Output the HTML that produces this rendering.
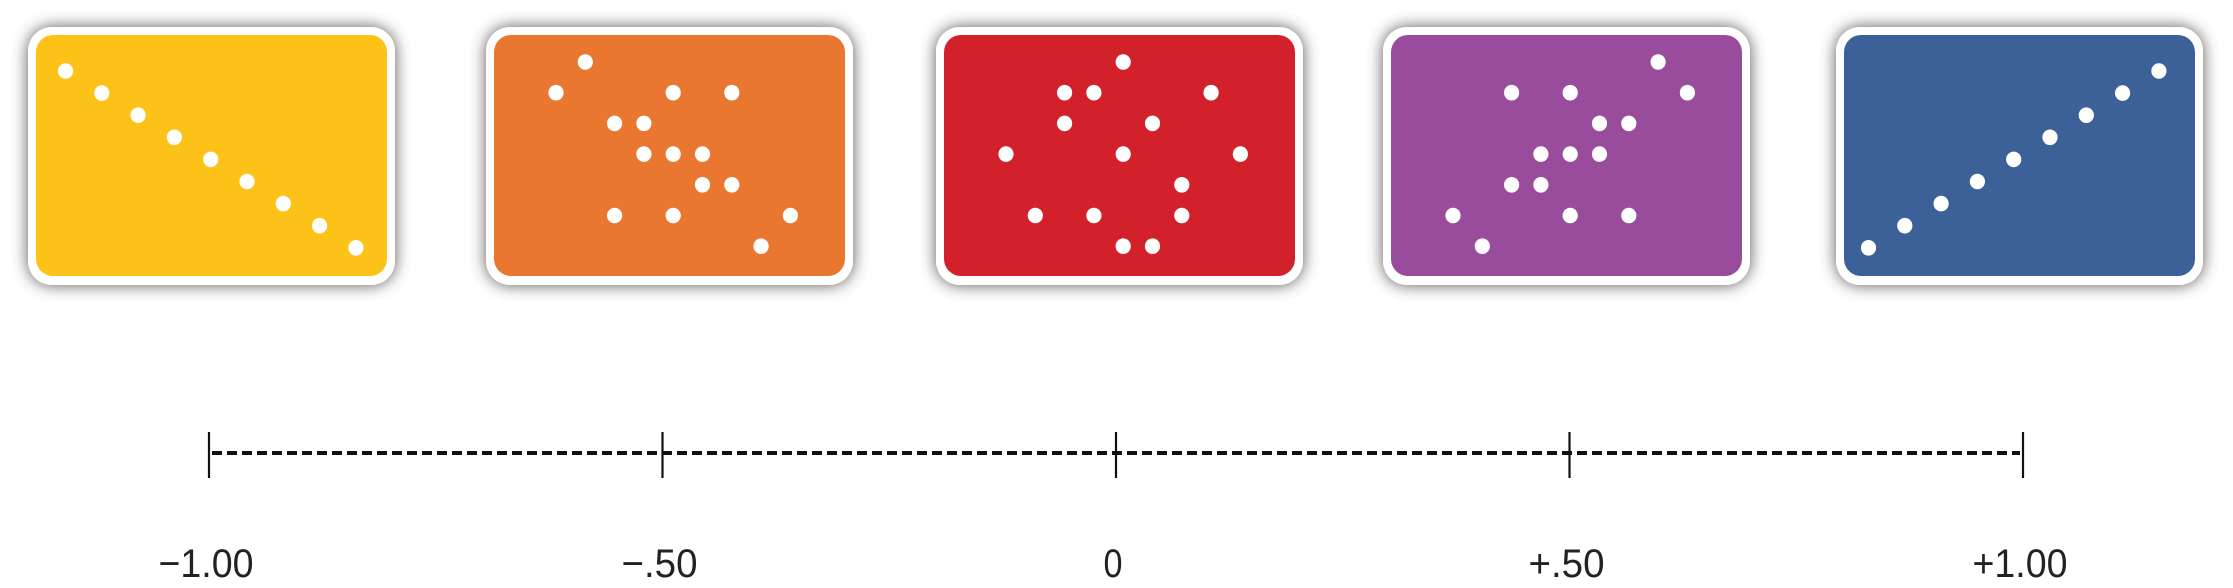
<!DOCTYPE html>
<html><head><meta charset="utf-8"><style>
html,body{margin:0;padding:0;background:#fff;}
svg{display:block;}
text{font-family:"Liberation Sans",sans-serif;}
</style></head><body>
<svg id="chart" width="2233" height="588" viewBox="0 0 2233 588">
<defs>
<filter id="sh" x="-10%" y="-15%" width="120%" height="130%">
<feGaussianBlur in="SourceAlpha" stdDeviation="8"/>
<feComponentTransfer><feFuncA type="linear" slope="0.9"/></feComponentTransfer>
<feOffset dx="0" dy="0" result="b"/>
<feFlood flood-color="#4a4040"/><feComposite in2="b" operator="in"/>
<feMerge><feMergeNode/><feMergeNode in="SourceGraphic"/></feMerge>
</filter>
</defs>
<g id="cards"></g>
<g id="axis"></g>
</svg>
<script>
// Card data (grid units)
const cardNames = ['strong-negative','moderate-negative','no-correlation','moderate-positive','strong-positive'];
const cardColors = ['#FDC218','#E9772F','#D3212B','#9A4C9C','#3C6098'];
const yellowX = [0,1,2,3,4,5,6,7,8];
const yellowY = [0,1,2,3,4,5,6,7,8];
const orangeX = [1,0,4,6,2,3,3,4,5,5,6,2,4,8,7];
const orangeY = [0,1,1,1,2,2,3,3,3,4,4,5,5,5,6];
const redX = [4,2,3,7,2,5,0,4,8,6,1,3,6,4,5];
const redY = [0,1,1,1,2,2,3,3,3,4,5,5,5,6,6];
const purpleX = [7,2,4,8,5,6,3,4,5,2,3,0,4,6,1];
const purpleY = [0,1,1,1,2,2,3,3,3,4,4,5,5,5,6];
const blueX = [0,1,2,3,4,5,6,7,8];
const blueY = [8,7,6,5,4,3,2,1,0];
const seriesX = [yellowX, orangeX, redX, purpleX, blueX];
const seriesY = [yellowY, orangeY, redY, purpleY, blueY];
// Axis data
const tickValues = [-1, -0.5, 0, 0.5, 1];
const tickLabels = ['\u22121.00', '\u2212.50', '0', '+.50', '+1.00'];

const NS = 'http://www.w3.org/2000/svg';
const cardsG = document.getElementById('cards');
const cardLeft = [28, 486, 936, 1383, 1836];
const cardTop = 27, cardW = 367, cardH = 258;
function gridX(i, v){ return i===0||i===4 ? cardLeft[i] + (i===0?37.5:32.5) + v*36.3 : cardLeft[i] + 70 + v*29.3; }
function gridY(i, v){ return i===0||i===4 ? cardTop + 44 + v*22.1 : cardTop + 35 + v*30.7; }

for (let i=0;i<5;i++){
  const g = document.createElementNS(NS,'g');
  
  
  const outer = document.createElementNS(NS,'rect');
  outer.setAttribute('x', cardLeft[i]); outer.setAttribute('y', cardTop);
  outer.setAttribute('width', cardW); outer.setAttribute('height', cardH);
  outer.setAttribute('rx', 24); outer.setAttribute('fill', '#fff');
  outer.setAttribute('filter', 'url(#sh)');
  
  
  g.appendChild(outer);
  const inner = document.createElementNS(NS,'rect');
  inner.setAttribute('x', cardLeft[i]+8); inner.setAttribute('y', cardTop+8);
  inner.setAttribute('width', cardW-16); inner.setAttribute('height', cardH-17);
  inner.setAttribute('rx', 17); inner.setAttribute('fill', cardColors[i]);
  
  
  g.appendChild(inner);
  const xs = seriesX[i], ys = seriesY[i];
  for (let k=0;k<xs.length;k++){
    const c = document.createElementNS(NS,'ellipse');
    c.setAttribute('cx', gridX(i, xs[k])); c.setAttribute('cy', gridY(i, ys[k]));
    c.setAttribute('rx', 7.6); c.setAttribute('ry', 7.8); c.setAttribute('fill', '#fff');
    
    
    g.appendChild(c);
  }
  cardsG.appendChild(g);
}

const axisG = document.getElementById('axis');
function axisX(v){ return 209 + (v + 1) * (2023 - 209) / 2; }
const line = document.createElementNS(NS,'line');
line.setAttribute('x1', axisX(-1)+3); line.setAttribute('x2', axisX(1)-3);
line.setAttribute('y1', 453); line.setAttribute('y2', 453);
line.setAttribute('stroke', '#111'); line.setAttribute('stroke-width', 4);
line.setAttribute('stroke-dasharray', '10 5');


axisG.appendChild(line);
for (let i=0;i<tickValues.length;i++){
  const x = axisX(tickValues[i]);
  const t = document.createElementNS(NS,'line');
  t.setAttribute('x1', x); t.setAttribute('x2', x);
  t.setAttribute('y1', 432); t.setAttribute('y2', 478);
  t.setAttribute('stroke', '#111'); t.setAttribute('stroke-width', 2.2);
  
  
  axisG.appendChild(t);
  const tx = document.createElementNS(NS,'text');
  tx.setAttribute('x', x - 3); tx.setAttribute('y', 577);
  tx.setAttribute('text-anchor', 'middle');
  tx.setAttribute('font-size', 40);
  tx.setAttribute('textLength', tickLabels[i].length * 19);
  tx.setAttribute('lengthAdjust', 'spacingAndGlyphs');
  tx.setAttribute('fill', '#222');
  
  
  tx.textContent = tickLabels[i];
  axisG.appendChild(tx);
}
</script>
</body></html>
